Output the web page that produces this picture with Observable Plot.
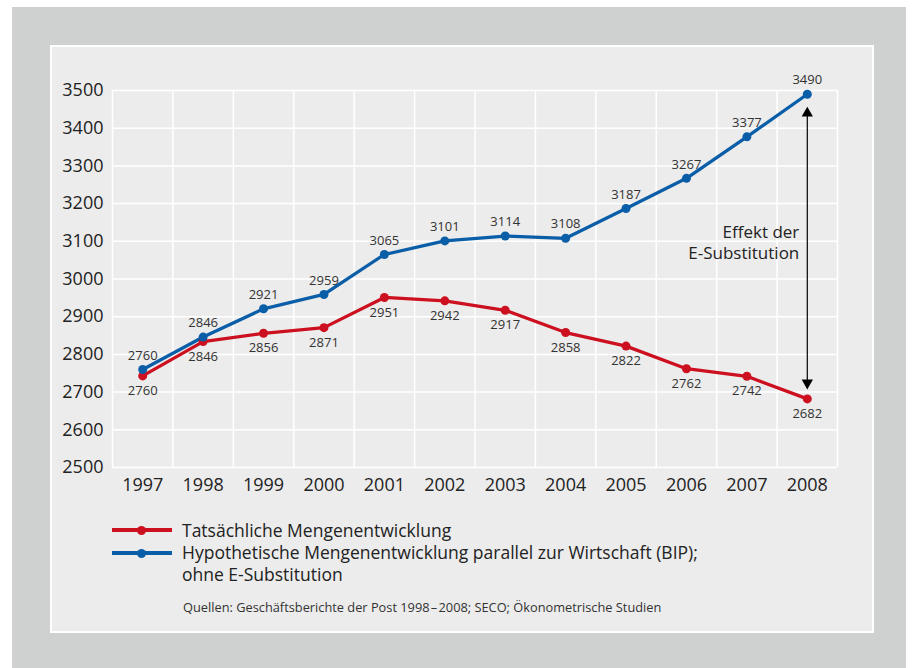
<!DOCTYPE html>
<html>
<head>
<meta charset="utf-8">
<script src="https://cdn.jsdelivr.net/npm/d3@7"></script>
<script src="https://cdn.jsdelivr.net/npm/@observablehq/plot@0.6"></script>
<style>
  body { margin: 0; background: #ffffff; font-family: "Open Sans", sans-serif; }
  #page { position: relative; width: 914px; height: 668px; overflow: hidden; }
  #grey { position: absolute; left: 12px; top: 7px; width: 894px; height: 661px; background: #cfd1d0; }
  #panel { position: absolute; left: 50px; top: 45px; width: 824px; height: 588px; box-sizing: border-box; border: 2px solid #ffffff; background: #ececec; }
  #chart { position: absolute; left: 0; top: 0; }
  .leg { position: absolute; left: 112px; width: 60px; height: 4px; }
  .leg i { position: absolute; left: 25px; top: -2.5px; width: 9px; height: 9px; border-radius: 50%; }
  .legtext { position: absolute; left: 182px; font-size: 17.5px; line-height: 22px; color: #222; white-space: nowrap; }
  #source { position: absolute; left: 183px; top: 598px; font-size: 12.8px; color: #333; white-space: nowrap; }
</style>
</head>
<body>
<div id="page">
  <div id="grey"></div>
  <div id="panel"></div>
  <div id="chart"></div>
  <div class="leg" style="top:528px;background:#cc1020"><i style="background:#cc1020"></i></div>
  <div class="leg" style="top:551px;background:#0a5ea8"><i style="background:#0a5ea8"></i></div>
  <div class="legtext" style="top:519px">Tatsächliche Mengenentwicklung</div>
  <div class="legtext" style="top:541px">Hypothetische Mengenentwicklung parallel zur Wirtschaft (BIP);<br>ohne E-Substitution</div>
  <div id="source">Quellen: Geschäftsberichte der Post 1998&#8202;–&#8202;2008; SECO; Ökonometrische Studien</div>
</div>
<script>
// ---- data ----
const years = [1997, 1998, 1999, 2000, 2001, 2002, 2003, 2004, 2005, 2006, 2007, 2008];
// Hypothetische Mengenentwicklung (blue)
const hypothetical = [2760, 2846, 2921, 2959, 3065, 3101, 3114, 3108, 3187, 3267, 3377, 3490];
// Tatsächliche Mengenentwicklung (red): plotted positions and printed labels
const actual = [2743, 2834, 2856, 2871, 2951, 2942, 2917, 2858, 2822, 2762, 2742, 2682];
const actualLabels = [2760, 2846, 2856, 2871, 2951, 2942, 2917, 2858, 2822, 2762, 2742, 2682];
const yTicks = [2500, 2600, 2700, 2800, 2900, 3000, 3100, 3200, 3300, 3400, 3500];
const annotation = "Effekt der\nE-Substitution";

const RED = "#cc1020";
const BLUE = "#0a5ea8";

const blueData = years.map((year, i) => ({year, value: hypothetical[i], label: String(hypothetical[i])}));
const redData = years.map((year, i) => ({year, value: actual[i], label: String(actualLabels[i])}));
const bounds = years.map(y => y - 0.5).concat([years[years.length - 1] + 0.5]);
const last = years.length - 1;
const arrowData = [{year: years[last], top: hypothetical[last], bottom: actual[last]}];

const chart = Plot.plot({
  width: 914,
  height: 500,
  marginLeft: 112,
  marginRight: 77,
  marginTop: 90,
  marginBottom: 33,
  style: { fontFamily: "Open Sans, sans-serif", fontSize: "18px", color: "#222", background: "transparent", overflow: "visible" },
  x: { type: "linear", domain: [bounds[0], bounds[bounds.length - 1]], ticks: years, tickFormat: d => String(d), tickSize: 0, tickPadding: 11, label: null },
  y: { domain: [yTicks[0], yTicks[yTicks.length - 1]], ticks: yTicks, tickFormat: d => String(d), tickSize: 0, tickPadding: 9, label: null },
  marks: [
    Plot.ruleY(yTicks, { stroke: "#ffffff", strokeWidth: 1.5 }),
    Plot.ruleX(bounds, { stroke: "#ffffff", strokeWidth: 1.5 }),
    // arrow
    Plot.ruleX(arrowData, { x: "year", y1: "top", y2: "bottom", stroke: "#000", strokeWidth: 1.2, insetTop: 21, insetBottom: 18 }),
    Plot.dot(arrowData, { x: "year", y: "top", symbol: "triangle", r: 4.2, fill: "#000", stroke: "none", dy: 19 }),
    Plot.dot(arrowData, { x: "year", y: "bottom", symbol: "triangle", rotate: 180, r: 4.2, fill: "#000", stroke: "none", dy: -16 }),
    Plot.text(arrowData, { x: "year", y: d => (d.top + d.bottom) / 2, text: () => annotation, textAnchor: "end", dx: -8, dy: -5, lineHeight: 1.24, fontSize: 17, fill: "#222" }),
    // lines
    Plot.line(redData, { x: "year", y: "value", stroke: RED, strokeWidth: 3.3 }),
    Plot.line(blueData, { x: "year", y: "value", stroke: BLUE, strokeWidth: 3.3 }),
    Plot.dot(redData, { x: "year", y: "value", r: 4.5, fill: RED, stroke: "none" }),
    Plot.dot(blueData, { x: "year", y: "value", r: 4.5, fill: BLUE, stroke: "none" }),
    Plot.text(blueData, { x: "year", y: "value", text: "label", dy: -14, fontSize: 13, fill: "#333" }),
    Plot.text(redData, { x: "year", y: "value", text: "label", dy: 15, fontSize: 13, fill: "#333" })
  ]
});
document.getElementById("chart").appendChild(chart);
</script>
</body>
</html>
